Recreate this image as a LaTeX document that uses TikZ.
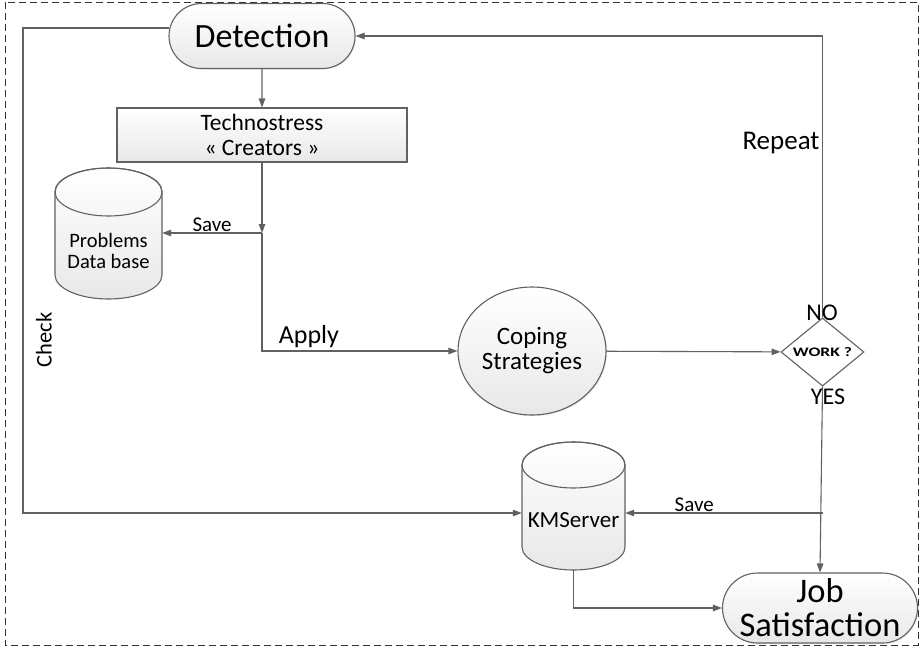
\documentclass[tikz,border=0pt]{standalone}
\usepackage{fontspec}
\setmainfont{Carlito}
\usetikzlibrary{arrows.meta,shapes.misc,shapes.geometric,shadows}

\begin{document}
\begin{tikzpicture}[x=1pt,y=-1pt,
  ln/.style={draw=black!62, line width=1.1pt},
  arr/.style={ln, -{Triangle[length=9pt,width=6.5pt]}},
  gfill/.style={top color=white, bottom color=black!9},
  shad/.style={drop shadow={shadow xshift=1.2pt, shadow yshift=-1.2pt, opacity=0.15}},
  term/.style={rounded rectangle, ln, gfill, shad, inner sep=0pt, align=center},
  proc/.style={rectangle, ln, gfill, shad, inner sep=0pt, align=center},
  hole/.style={rectangle, inner sep=0pt},
  lbl/.style={inner sep=1pt, text=black},
]
\useasboundingbox (0,0) rectangle (920,646);

% outer dashed frame
\draw[black!80, line width=0.8pt, dash pattern=on 7pt off 4pt] (5,2) rectangle (918,645);

% cylinders (database shapes)
\path[gfill, draw=black!62, line width=1.1pt]
  (55,192) -- (55,275) arc[start angle=180, end angle=360, x radius=53.5pt, y radius=24pt]
  -- (162,192) arc[start angle=0, end angle=180, x radius=53.5pt, y radius=24pt] -- cycle;
\draw[ln] (108.5,192) ellipse[x radius=53.5pt, y radius=24pt];

\path[gfill, draw=black!62, line width=1.1pt]
  (522,465) -- (522,547) arc[start angle=180, end angle=360, x radius=51.5pt, y radius=23pt]
  -- (625,465) arc[start angle=0, end angle=180, x radius=51.5pt, y radius=23pt] -- cycle;
\draw[ln] (573.5,465) ellipse[x radius=51.5pt, y radius=23pt];

% nodes
\node[term, minimum width=186pt, minimum height=65pt,
      font=\fontsize{34}{36}\selectfont] (det) at (262,36) {Detection};
\node[proc, minimum width=290pt, minimum height=54pt,
      font=\fontsize{23.5}{25}\selectfont] (tech) at (262,135) {Technostress\\« Creators »};
\node[hole, minimum width=107pt, minimum height=131pt] (pdb) at (108.5,233.5) {};
\node[lbl, align=center, font=\fontsize{20.5}{21.5}\selectfont] (pdbt) at (108.5,251) {Problems\\Data base};
\node[ellipse, ln, gfill, shad, minimum width=148pt, minimum height=128pt, inner sep=0pt,
      align=center, font=\fontsize{25}{25}\selectfont] (cope) at (532,351) {Coping\\Strategies};
\node[diamond, ln, fill=white, minimum width=83pt, minimum height=50pt, inner sep=0pt,
      font=\fontsize{13}{14}\selectfont\bfseries] (work) at (822.5,352) {\scalebox{1.35}[1]{WORK ?}};
\node[hole, minimum width=103pt, minimum height=128pt] (km) at (573.5,506) {};
\node[lbl, font=\fontsize{23}{24}\selectfont] (kmt) at (573.5,520) {KMServer};
\node[term, minimum width=195pt, minimum height=70pt,
      font=\fontsize{34.5}{34}\selectfont] (job) at (820,608) {Job\\Satisfaction};

% junction points
\coordinate (jn) at (262,233);
\coordinate (js) at (822.5,513);
\coordinate (ck) at (23,513);

% connectors
\draw[arr] (det) -- (tech);
\draw[arr] (tech) -- (jn);
\draw[arr] (jn) -- (pdb.east |- jn) node[lbl, midway, above, font=\fontsize{21}{22}\selectfont] (sv1) {Save};
\draw[arr] (jn) |- (cope.west) node[lbl, pos=0.62, above, font=\fontsize{26}{27}\selectfont, yshift=2pt] (apl) {Apply};
\draw[arr] (cope) -- (work);
\draw[arr] (work.north) |- (det.east);
\draw[arr] (work.south) -- (job.north);
\draw[arr] (js) -- (km.east |- js) node[lbl, pos=0.65, above, font=\fontsize{21}{22}\selectfont] (sv2) {Save};
\draw[arr] (km.south) |- (job.west);
\draw[arr] ([xshift=1pt,yshift=8pt]det.west) -| (ck) -- (km.west |- ck);

% labels
\node[lbl, font=\fontsize{27}{28}\selectfont] (rep) at (781,143) {Repeat};
\node[lbl, font=\fontsize{24}{26}\selectfont] (no) at (822,313) {NO};
\node[lbl, font=\fontsize{24}{26}\selectfont] (yes) at (828,397) {YES};
\node[lbl, rotate=90, font=\fontsize{22.5}{24}\selectfont] (chk) at (44,340) {Check};
\end{tikzpicture}
\end{document}
